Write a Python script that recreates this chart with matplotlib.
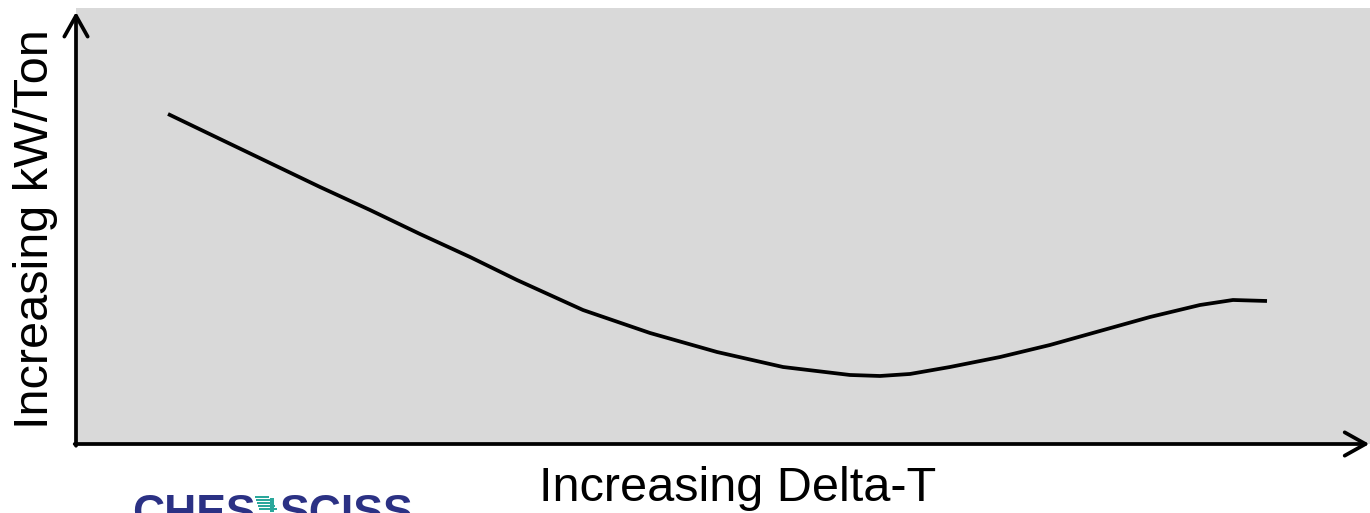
import matplotlib
matplotlib.use("Agg")
import matplotlib.pyplot as plt
from matplotlib.patches import Rectangle

plt.rcParams['font.family'] = ['Liberation Sans', 'DejaVu Sans']

# Curve values (arbitrary units, 0-100 on both axes)
delta_t = [7.11, 11.13, 14.99, 18.86, 22.72, 26.58, 30.45, 34.08, 39.18, 44.36,
           49.54, 54.64, 59.81, 62.13, 64.45, 67.54, 71.41, 75.27, 79.13, 83.00,
           86.86, 89.41, 92.04]
kw_ton = [75.69, 69.95, 64.45, 58.94, 53.67, 48.17, 42.89, 37.61, 30.73, 25.46,
          21.10, 17.66, 15.83, 15.60, 16.06, 17.66, 19.95, 22.71, 25.92, 29.13,
          31.88, 33.03, 32.80]

x_label = "Increasing Delta-T"
y_label = "Increasing kW/Ton"
logo_left = "CHES"
logo_right = "SCISS"

W, H = 1370, 513
fig = plt.figure(figsize=(W / 100, H / 100), dpi=100)
fig.patch.set_facecolor('white')

ax_left, ax_right, ax_bot, ax_top = 76, 1370, 444, 8
ax = fig.add_axes([ax_left / W, (H - ax_bot) / H, (ax_right - ax_left) / W, (ax_bot - ax_top) / H])
ax.set_facecolor('#d9d9d9')
for s in ax.spines.values():
    s.set_visible(False)
ax.set_xticks([])
ax.set_yticks([])
ax.set_xlim(0, 100)
ax.set_ylim(0, 100)

ax.plot(delta_t, kw_ton, color='black', lw=2.7, solid_capstyle='butt', solid_joinstyle='round')

arrow_kw = dict(arrowstyle='->,head_length=0.75,head_width=0.42', lw=2.7, color='black',
                shrinkA=0, shrinkB=0, mutation_scale=20)
ax.annotate('', xy=(0, 0.991), xytext=(0, -0.004), xycoords='axes fraction',
            textcoords='axes fraction', arrowprops=arrow_kw, annotation_clip=False)
ax.annotate('', xy=(0.9995, 0), xytext=(-0.001, 0), xycoords='axes fraction',
            textcoords='axes fraction', arrowprops=arrow_kw, annotation_clip=False)

fig.text(738 / W, (H - 501) / H, x_label, fontsize=35, ha='center', va='baseline', color='black')
fig.text(48 / W, (H - 229) / H, y_label, fontsize=35, rotation=90, ha='center', va='baseline',
         color='black', rotation_mode='anchor')

# partially visible logo at bottom-left
navy = '#2b3184'
teal = '#2aa79b'
fig.text(132 / W, (H - 494) / H, logo_left, fontsize=32, fontweight='bold', color=navy,
         ha='left', va='top')
fig.text(280 / W, (H - 494) / H, logo_right, fontsize=32, fontweight='bold', color=navy,
         ha='left', va='top')
for i, (x0, w) in enumerate([(255, 14), (256, 15), (257, 16), (258, 17), (259, 18)]):
    fig.add_artist(Rectangle((x0 / W, (H - 498 - i * 3) / H), w / W, 1.6 / H,
                             transform=fig.transFigure, color=teal, lw=0))
fig.add_artist(Rectangle((270 / W, (H - 512) / H), 4 / W, 14 / H,
                         transform=fig.transFigure, color=teal, lw=0))

fig.savefig('out.png', dpi=100)
